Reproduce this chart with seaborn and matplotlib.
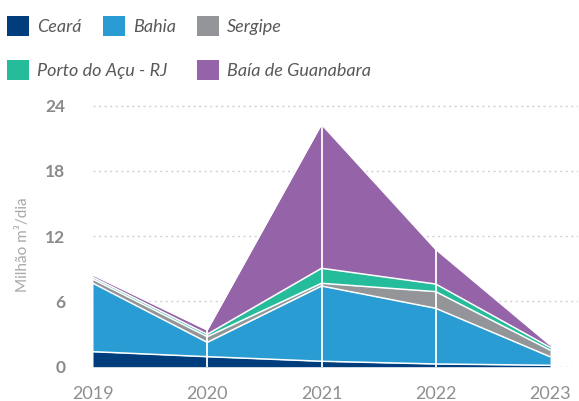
import matplotlib.pyplot as plt
import numpy as np
import pandas as pd
import seaborn as sns
from matplotlib.patches import Patch

years = [2019, 2020, 2021, 2022, 2023]
ceara = [1.38, 0.92, 0.50, 0.25, 0.13]
bahia = [6.29, 1.32, 6.92, 5.12, 0.79]
sergipe = [0.37, 0.52, 0.25, 1.53, 0.61]
porto_acu = [0.18, 0.22, 1.38, 0.70, 0.25]
guanabara = [0.21, 0.39, 13.24, 3.19, 0.22]

series_names = ["Ceará", "Bahia", "Sergipe", "Porto do Açu - RJ", "Baía de Guanabara"]
colors = ["#003d7c", "#299cd4", "#939598", "#25bc9c", "#9463a8"]
y_ticks = [0, 6, 12, 18, 24]

sns.set_theme(style="white")
plt.rcParams["font.family"] = ["Lato", "DejaVu Sans"]

fig = plt.figure(figsize=(5.79, 4.01), dpi=100)
ax = fig.add_axes([93 / 579, 1 - 366.7 / 401, 485 / 579, 263.2 / 401])

values = np.array([ceara, bahia, sergipe, porto_acu, guanabara])
ax.stackplot(years, values, colors=colors, linewidth=0, zorder=2)

# white boundary lines between layers
tops = np.cumsum(values, axis=0)
lines = pd.DataFrame(
    [(y, i, t) for i, row in enumerate(tops) for y, t in zip(years, row)],
    columns=["year", "layer", "top"],
)
sns.lineplot(data=lines, x="year", y="top", units="layer", estimator=None,
             color="white", linewidth=1.1, ax=ax, zorder=3, legend=False)
ax.vlines(years[1:-1], 0, tops[-1][1:-1], color="white", linewidth=1.3, zorder=3)

ax.set_xlim(2019, 2023.245)
ax.set_ylim(0, 24.2)
ax.set_xticks(years)
ax.set_xticklabels([str(y) for y in years], fontsize=13, color="#8f8f8f")
ax.set_yticks(y_ticks)
ax.set_yticklabels([str(t) for t in y_ticks], fontsize=12.5, color="#8a8a8a",
                   fontweight="bold")
ax.tick_params(axis="x", length=0, pad=14)
ax.tick_params(axis="y", length=0, pad=20)
ax.yaxis.grid(True, linestyle=(0, (1.5, 2.5)), color="#d0d0d0", linewidth=1, zorder=0)
ax.xaxis.grid(False)
ax.set_xlabel("")
ax.set_ylabel("Milhão m³/dia", fontsize=11, color="#a8a8a8")
ax.yaxis.set_label_coords(-0.13, 0.462)
sns.despine(ax=ax, left=True, bottom=True)

handles = [Patch(facecolor=c, edgecolor="none") for c in colors]
leg_kw = dict(frameon=False, prop={"size": 13, "style": "italic"},
              labelcolor="#595959", handlelength=1.2, handleheight=1.4,
              handletextpad=0.45, borderaxespad=0, borderpad=0)
leg1 = fig.legend(handles[:3], series_names[:3], ncol=3, loc="center left",
                  bbox_to_anchor=(7 / 579, 1 - 26 / 401), columnspacing=1.2,
                  **leg_kw)
leg2 = fig.legend(handles[3:], series_names[3:], ncol=2, loc="center left",
                  bbox_to_anchor=(7 / 579, 1 - 70 / 401), columnspacing=1.65,
                  **leg_kw)

fig.savefig("out.png", dpi=100)
